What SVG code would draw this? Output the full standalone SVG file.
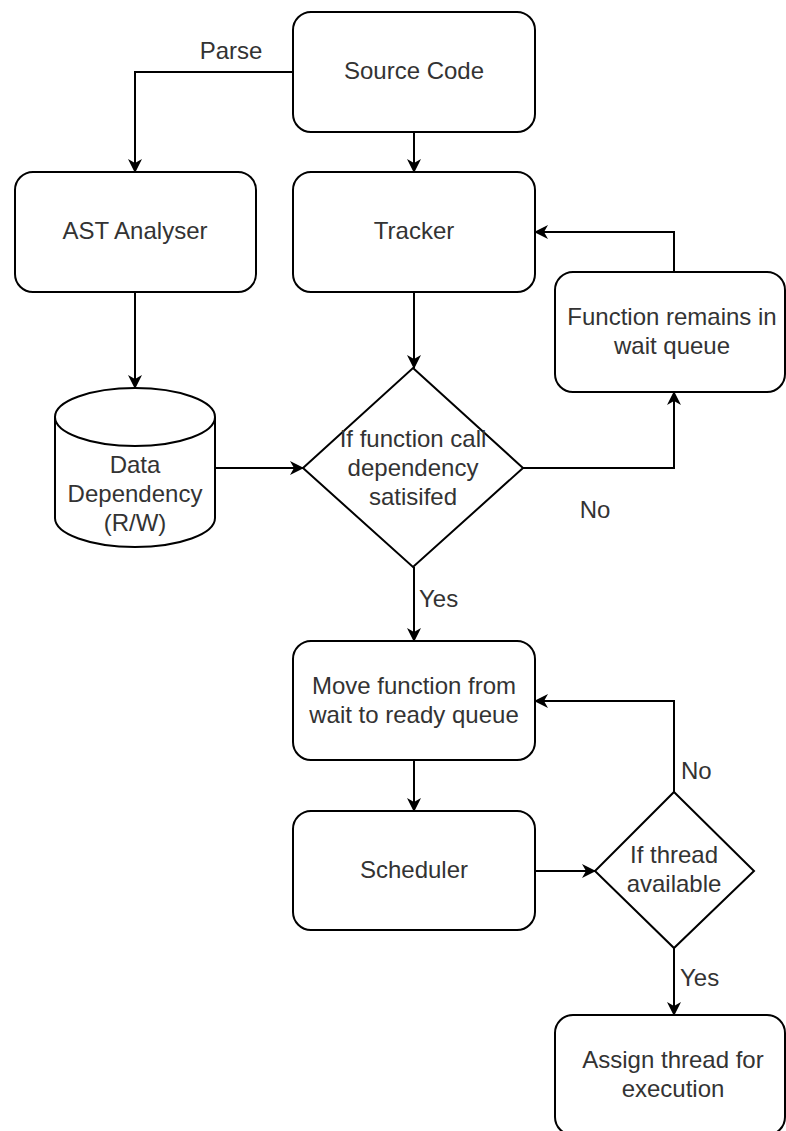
<svg xmlns="http://www.w3.org/2000/svg" width="786" height="1131" viewBox="0 0 786 1131">
<defs>
<marker id="arr" viewBox="0 0 14 14" refX="13" refY="7" markerWidth="14" markerHeight="14" markerUnits="userSpaceOnUse" orient="auto">
<path d="M0,0 L14,7 L0,14 L4,7 Z" fill="#000"/>
</marker>
<style>
.box{fill:#fff;stroke:#000;stroke-width:2}
.ln{fill:none;stroke:#000;stroke-width:2;marker-end:url(#arr)}
text{font-family:"Liberation Sans",Arial,sans-serif;font-size:24px;fill:#333}
.c{text-anchor:middle}
</style>
</defs>
<rect width="786" height="1131" fill="#fff"/>
<g id="connectors">
<path class="ln" d="M293,72 L135,72 L135,172"/>
<path class="ln" d="M414,132 L414,172"/>
<path class="ln" d="M674,272 L674,232 L535,232"/>
<path class="ln" d="M135,292 L135,388"/>
<path class="ln" d="M414,292 L414,368"/>
<path class="ln" d="M215,468 L303,468"/>
<path class="ln" d="M523,468 L674,468 L674,392"/>
<path class="ln" d="M414,567 L414,641"/>
<path class="ln" d="M414,760 L414,811"/>
<path class="ln" d="M535,871 L595,871"/>
<path class="ln" d="M674,792 L674,701 L535,701"/>
<path class="ln" d="M674,948 L674,1015"/>
<text x="231" y="59" class="c">Parse</text>
<text x="595" y="518" class="c">No</text>
<text x="419" y="607">Yes</text>
<text x="681" y="779">No</text>
<text x="680" y="986">Yes</text>
</g>
<g id="source-code">
<rect class="box" x="293" y="12" width="242" height="120" rx="18"/>
<text x="414" y="79" class="c">Source Code</text>
</g>
<g id="ast-analyser">
<rect class="box" x="15" y="172" width="241" height="120" rx="18"/>
<text x="135" y="239" class="c">AST Analyser</text>
</g>
<g id="tracker">
<rect class="box" x="293" y="172" width="242" height="120" rx="18"/>
<text x="414" y="239" class="c">Tracker</text>
</g>
<g id="function-remains">
<rect class="box" x="555" y="272" width="230" height="120" rx="18"/>
<text x="672" y="325" class="c">Function remains in</text>
<text x="672" y="354" class="c">wait queue</text>
</g>
<g id="data-dependency">
<path class="box" d="M55,417 A80,29 0 0 1 215,417 L215,518 A80,29 0 0 1 55,518 Z"/>
<path fill="none" stroke="#000" stroke-width="2" d="M55,417 A80,29 0 0 0 215,417"/>
<text x="135" y="473" class="c">Data</text>
<text x="135" y="502" class="c">Dependency</text>
<text x="135" y="531" class="c">(R/W)</text>
</g>
<g id="dependency-check">
<path class="box" d="M413,368 L523,468 L413,567 L303,468 Z"/>
<text x="413" y="447" class="c">If function call</text>
<text x="413" y="476" class="c">dependency</text>
<text x="413" y="505" class="c">satisifed</text>
</g>
<g id="move-function">
<rect class="box" x="293" y="641" width="242" height="119" rx="18"/>
<text x="414" y="694" class="c">Move function from</text>
<text x="414" y="723" class="c">wait to ready queue</text>
</g>
<g id="scheduler">
<rect class="box" x="293" y="811" width="242" height="119" rx="18"/>
<text x="414" y="878" class="c">Scheduler</text>
</g>
<g id="thread-check">
<path class="box" d="M674,792 L754,871 L674,948 L595,871 Z"/>
<text x="674" y="863" class="c">If thread</text>
<text x="674" y="892" class="c">available</text>
</g>
<g id="assign-thread">
<rect class="box" x="555" y="1015" width="230" height="120" rx="18"/>
<text x="673" y="1068" class="c">Assign thread for</text>
<text x="673" y="1097" class="c">execution</text>
</g>
</svg>
